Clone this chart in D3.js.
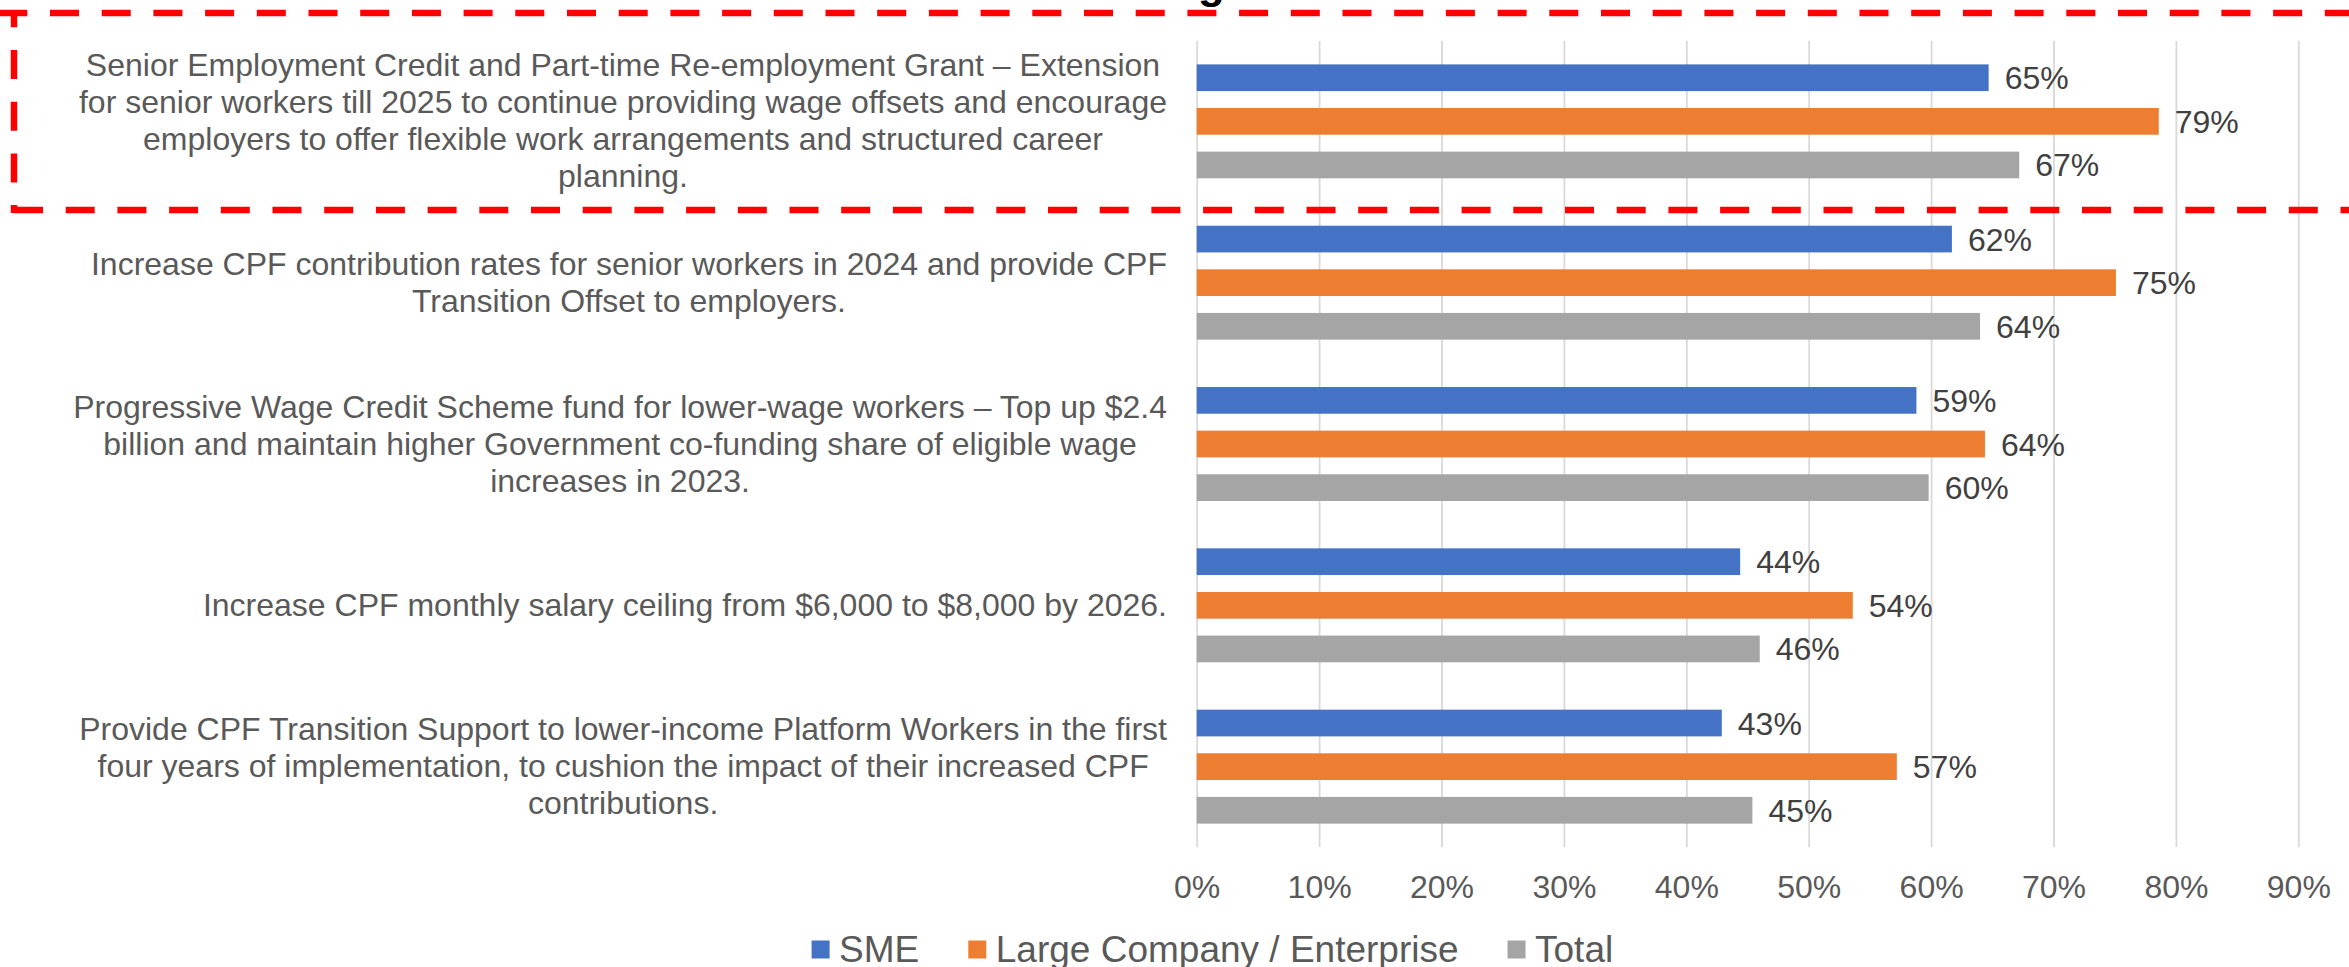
<!DOCTYPE html>
<html>
<head>
<meta charset="utf-8">
<script src="https://cdn.jsdelivr.net/npm/d3@7/dist/d3.min.js"></script>
<style>
  body { margin: 0; background: #fff; overflow: hidden; }
  text { font-family: "Liberation Sans", Arial, sans-serif; }
</style>
</head>
<body>
<script>
// category labels, wrapped the same way as the picture
const categories = [
  ['Senior Employment Credit and Part-time Re-employment Grant \u2013 Extension',
   'for senior workers till 2025 to continue providing wage offsets and encourage',
   'employers to offer flexible work arrangements and structured career',
   'planning.'],
  ['Increase CPF contribution rates for senior workers in 2024 and provide CPF',
   'Transition Offset to employers.'],
  ['Progressive Wage Credit Scheme fund for lower-wage workers \u2013 Top up $2.4',
   'billion and maintain higher Government co-funding share of eligible wage',
   'increases in 2023.'],
  ['Increase CPF monthly salary ceiling from $6,000 to $8,000 by 2026.'],
  ['Provide CPF Transition Support to lower-income Platform Workers in the first',
   'four years of implementation, to cushion the impact of their increased CPF',
   'contributions.']
];

const seriesNames = ['SME', 'Large Company / Enterprise', 'Total'];
const smeValues = [0.647, 0.617, 0.588, 0.444, 0.429];
const largeValues = [0.786, 0.751, 0.644, 0.536, 0.572];
const totalValues = [0.672, 0.640, 0.598, 0.460, 0.454];

const tickValues = [0, 0.1, 0.2, 0.3, 0.4, 0.5, 0.6, 0.7, 0.8, 0.9];
const tickLabels = ['0%', '10%', '20%', '30%', '40%', '50%', '60%', '70%', '80%', '90%'];

const colors = ['#4472C4', '#ED7D31', '#A5A5A5'];
const seriesValues = [smeValues, largeValues, totalValues];
const catKeys = categories.map(c => c.join(' '));

const svg = d3.select('body')
              .append('svg')
              .attr('width', 2349)
              .attr('height', 967);

const plotTop = 40.7, plotBottom = 847.3;

const xscale = d3.scaleLinear()
                .domain([0, 0.9])
                .range([1196.7, 2298.3]);

const yscale = d3.scaleBand()
                .domain(catKeys)
                .range([plotTop, plotBottom])
                .padding(0);

const yinner = d3.scaleBand()
                .domain(seriesNames)
                .range([0, yscale.bandwidth()])
                .paddingInner(0.388)
                .paddingOuter(0.543);

// gridlines + tick labels
const x_axis = d3.axisBottom(xscale)
                .tickValues(tickValues)
                .tickFormat((d, i) => tickLabels[i])
                .tickSizeInner(-(plotBottom - plotTop))
                .tickSizeOuter(0)
                .tickPadding(28);

const axisG = svg.append('g')
  .attr('transform', `translate(0, ${plotBottom})`)
  .call(x_axis);
axisG.select('.domain').remove();
axisG.selectAll('line').attr('stroke', '#D9D9D9').attr('stroke-width', 1.8);
axisG.selectAll('text')
  .attr('fill', '#595959')
  .style('font-size', '32px')
  .style('font-family', '"Liberation Sans", Arial, sans-serif');

// bars + data labels
seriesNames.forEach((name, s) => {
  const rows = catKeys.map((k, i) => ({key: k, value: seriesValues[s][i]}));
  const g = svg.append('g');
  g.selectAll('rect')
    .data(rows)
    .enter().append('rect')
    .attr('x', xscale(0))
    .attr('y', d => yscale(d.key) + yinner(name))
    .attr('width', d => xscale(d.value) - xscale(0))
    .attr('height', yinner.bandwidth())
    .attr('fill', colors[s]);
  g.selectAll('text')
    .data(rows)
    .enter().append('text')
    .attr('x', d => xscale(d.value) + 16)
    .attr('y', d => yscale(d.key) + yinner(name) + yinner.bandwidth() / 2 + 11.5)
    .attr('fill', '#404040')
    .style('font-size', '32px')
    .text(d => d3.format('.0%')(d.value));
});

// category labels: lines centred inside a block right-aligned to the axis
const labelRight = 1167;
const lineH = 37;
categories.forEach((lines, i) => {
  const cy = yscale(catKeys[i]) + yscale.bandwidth() / 2;
  const g = svg.append('g');
  const texts = g.selectAll('text')
    .data(lines)
    .enter().append('text')
    .attr('text-anchor', 'middle')
    .attr('fill', '#595959')
    .style('font-size', '32px')
    .attr('y', (d, j) => cy + (j - (lines.length - 1) / 2) * lineH + 10.5)
    .text(d => d);
  let maxW = 0;
  texts.each(function() { maxW = Math.max(maxW, this.getComputedTextLength()); });
  texts.attr('x', labelRight - maxW / 2);
});

// legend
const legend = svg.append('g');
let lx = 811.6;
seriesNames.forEach((name, s) => {
  legend.append('rect')
    .attr('x', lx).attr('y', 940.5)
    .attr('width', 18).attr('height', 18)
    .attr('fill', colors[s]);
  const t = legend.append('text')
    .attr('x', lx + 27.5).attr('y', 962)
    .attr('fill', '#595959')
    .style('font-size', '37px')
    .text(name);
  lx += 27.5 + t.node().getComputedTextLength() + 49;
});

// title sits above the picture; only a descender shows
svg.append('text')
  .attr('x', 1198).attr('y', -2.5)
  .attr('fill', '#000')
  .style('font-size', '44px')
  .style('font-weight', 'bold')
  .text('g');

// red dashed highlight box round the first category
const dash = '29 22.7';
const box = svg.append('g')
  .attr('stroke', '#FF0000')
  .attr('stroke-width', 6.5)
  .attr('fill', 'none')
  .attr('stroke-dasharray', dash);
box.append('line').attr('x1', -1.7).attr('x2', 2400).attr('y1', 13).attr('y2', 13);
box.append('line').attr('x1', 14).attr('x2', 2400).attr('y1', 210).attr('y2', 210);
box.append('line').attr('x1', 14).attr('x2', 14).attr('y1', 13).attr('y2', 213)
  .attr('stroke-dashoffset', 14.7);
</script>
</body>
</html>
